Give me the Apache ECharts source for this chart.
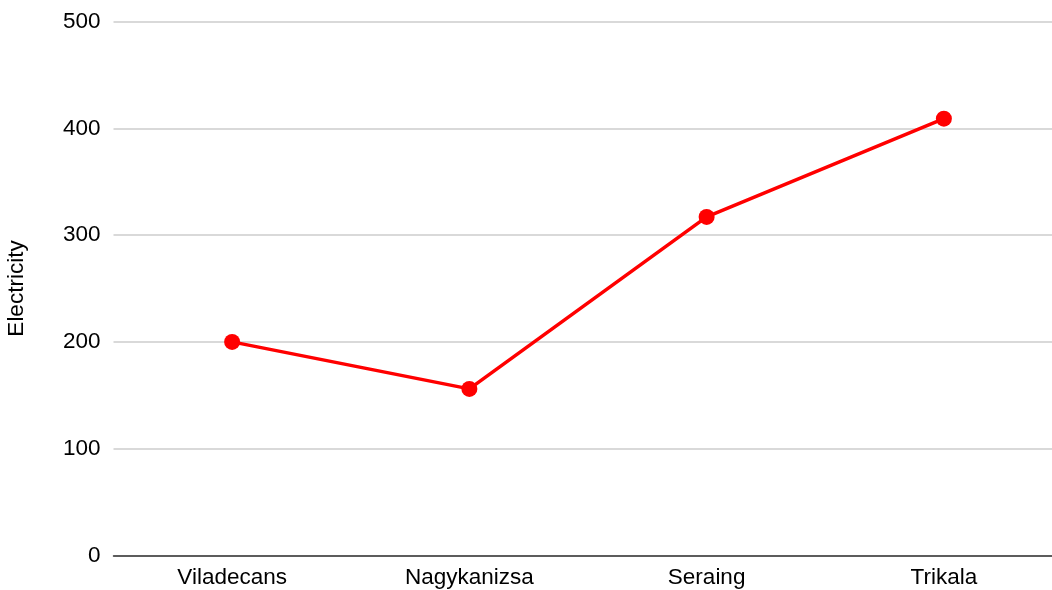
<!DOCTYPE html>
<html>
<head>
<meta charset="utf-8">
<script src="https://cdn.jsdelivr.net/npm/echarts@6/dist/echarts.min.js"></script>
<style>
html,body{margin:0;padding:0;background:#fff;overflow:hidden;}
#chart{width:1052px;height:590px;}
</style>
</head>
<body>
<div id="chart"></div>
<script>
const categories = ['Viladecans', 'Nagykanizsa', 'Seraing', 'Trikala'];
const electricity = [200, 156, 317, 409];
const yTicks = [0, 100, 200, 300, 400, 500];

const chart = echarts.init(document.getElementById('chart'));
const font = 'Liberation Sans, Arial, sans-serif';
chart.setOption({
  animation: false,
  grid: { left: 113.5, width: 949, top: 21.5, bottom: 34.5, containLabel: false, outerBoundsMode: 'none' },
  xAxis: {
    type: 'category',
    data: categories,
    boundaryGap: true,
    axisLine: { show: true, lineStyle: { color: '#333', width: 1.5 } },
    axisTick: { show: false },
    axisLabel: { color: '#000', fontSize: 22.5, fontFamily: font, margin: 11 }
  },
  yAxis: {
    type: 'value',
    min: yTicks[0],
    max: yTicks[yTicks.length - 1],
    interval: 100,
    name: 'Electricity',
    nameLocation: 'middle',
    nameGap: 85,
    nameRotate: 90,
    nameTextStyle: { color: '#000', fontSize: 22.5, fontFamily: font },
    axisLine: { show: false },
    axisTick: { show: false },
    splitLine: { lineStyle: { color: '#ccc', width: 1.5 } },
    axisLabel: { color: '#000', fontSize: 22.5, fontFamily: font, margin: 13 }
  },
  series: [{
    type: 'line',
    data: electricity,
    symbol: 'circle',
    symbolSize: 16,
    itemStyle: { color: '#ff0000' },
    lineStyle: { color: '#ff0000', width: 3.5 }
  }]
});
</script>
</body>
</html>
